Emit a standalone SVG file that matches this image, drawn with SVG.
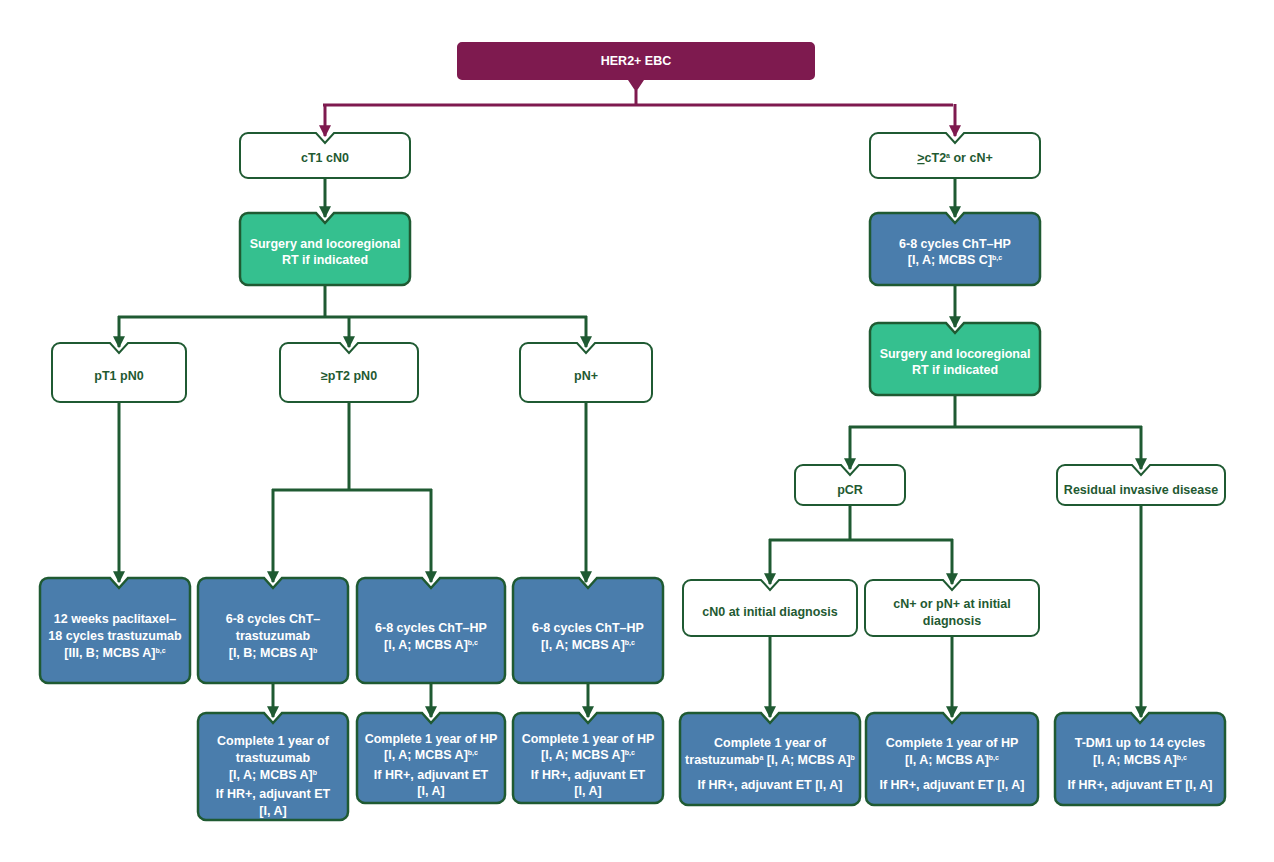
<svg xmlns="http://www.w3.org/2000/svg" width="1274" height="862" viewBox="0 0 1274 862">
<defs>
<marker id="ag" viewBox="0 0 10 10" refX="9" refY="5" markerWidth="4" markerHeight="4" orient="auto" markerUnits="strokeWidth"><path d="M0,0 L10,5 L0,10 Z" fill="#1f5a32"/></marker>
<marker id="ap" viewBox="0 0 10 10" refX="9" refY="5" markerWidth="4" markerHeight="4" orient="auto" markerUnits="strokeWidth"><path d="M0,0 L10,5 L0,10 Z" fill="#7e1a4f"/></marker>
</defs>
<style>
text{font-family:"Liberation Sans",Arial,sans-serif;font-weight:bold;font-size:12.5px;text-anchor:middle}
.w path{fill:#fff;stroke:#1f5a32;stroke-width:2}
.w text{fill:#1f5a32}
.b path{fill:#4a7dac;stroke:#1f5a32;stroke-width:2.5}
.b text{fill:#fff}
.g path{fill:#35c08f;stroke:#1f5a32;stroke-width:2.5}
.g text{fill:#fff}
.c{fill:none;stroke:#1f5a32;stroke-width:3}
.cp{fill:none;stroke:#7e1a4f;stroke-width:3}
.s{font-size:7px}
</style>
<rect width="1274" height="862" fill="#fff"/>
<g id="connectors">
<path class="cp" d="M636,90 V105"/>
<path class="cp" d="M323,105 H953"/>
<path class="cp" d="M325,104 V136" marker-end="url(#ap)"/>
<path class="cp" d="M955,104 V136" marker-end="url(#ap)"/>
<path class="c" d="M325,178 V217" marker-end="url(#ag)"/>
<path class="c" d="M325,285 V317 M118,317 H587"/>
<path class="c" d="M119,316 V347" marker-end="url(#ag)"/>
<path class="c" d="M349,316 V347" marker-end="url(#ag)"/>
<path class="c" d="M586,316 V347" marker-end="url(#ag)"/>
<path class="c" d="M119,402 V582" marker-end="url(#ag)"/>
<path class="c" d="M349,402 V490 M272,490 H432"/>
<path class="c" d="M273,489 V582" marker-end="url(#ag)"/>
<path class="c" d="M431,489 V582" marker-end="url(#ag)"/>
<path class="c" d="M586,402 V582" marker-end="url(#ag)"/>
<path class="c" d="M273,683 V717" marker-end="url(#ag)"/>
<path class="c" d="M431,683 V717" marker-end="url(#ag)"/>
<path class="c" d="M588,683 V717" marker-end="url(#ag)"/>
<path class="c" d="M955,178 V217" marker-end="url(#ag)"/>
<path class="c" d="M955,285 V327" marker-end="url(#ag)"/>
<path class="c" d="M955,395 V427 M849,427 H1142"/>
<path class="c" d="M850,426 V469" marker-end="url(#ag)"/>
<path class="c" d="M1141,426 V469" marker-end="url(#ag)"/>
<path class="c" d="M850,505 V540 M769,540 H953"/>
<path class="c" d="M770,539 V584" marker-end="url(#ag)"/>
<path class="c" d="M952,539 V584" marker-end="url(#ag)"/>
<path class="c" d="M770,636 V717" marker-end="url(#ag)"/>
<path class="c" d="M952,636 V717" marker-end="url(#ag)"/>
<path class="c" d="M1141,505 V717" marker-end="url(#ag)"/>
</g>
<g id="her2">
<path d="M462,42 H810 A5,5 0 0 1 815,47 V75 A5,5 0 0 1 810,80 H644 L636,92 L628,80 H462 A5,5 0 0 1 457,75 V47 A5,5 0 0 1 462,42 Z" fill="#7e1a4f"/>
<text x="636" y="65" fill="#fff">HER2+ EBC</text>
</g>
<g id="ct1" class="w"><path d="M248,133 H316 L325,143 L334,133 H402 A8,8 0 0 1 410,141 V170 A8,8 0 0 1 402,178 H248 A8,8 0 0 1 240,170 V141 A8,8 0 0 1 248,133 Z"/><text x="325" y="162">cT1 cN0</text></g>
<g id="ct2" class="w"><path d="M878,133 H946 L955,143 L964,133 H1032 A8,8 0 0 1 1040,141 V170 A8,8 0 0 1 1032,178 H878 A8,8 0 0 1 870,170 V141 A8,8 0 0 1 878,133 Z"/><text x="955" y="162"><tspan text-decoration="underline">&gt;</tspan>cT2<tspan class="s" dy="-4">a</tspan><tspan dy="4"> or cN+</tspan></text></g>
<g id="surgL" class="g"><path d="M248,213 H316 L325,223 L334,213 H402 A8,8 0 0 1 410,221 V277 A8,8 0 0 1 402,285 H248 A8,8 0 0 1 240,277 V221 A8,8 0 0 1 248,213 Z"/><text x="325" y="248">Surgery and locoregional</text><text x="325" y="264">RT if indicated</text></g>
<g id="chtR" class="b"><path d="M878,213 H946 L955,223 L964,213 H1032 A8,8 0 0 1 1040,221 V277 A8,8 0 0 1 1032,285 H878 A8,8 0 0 1 870,277 V221 A8,8 0 0 1 878,213 Z"/><text x="955" y="248">6-8 cycles ChT–HP</text><text x="955" y="264">[I, A; MCBS C]<tspan class="s" dy="-4">b,c</tspan></text></g>
<g id="surgR" class="g"><path d="M878,323 H946 L955,333 L964,323 H1032 A8,8 0 0 1 1040,331 V387 A8,8 0 0 1 1032,395 H878 A8,8 0 0 1 870,387 V331 A8,8 0 0 1 878,323 Z"/><text x="955" y="358">Surgery and locoregional</text><text x="955" y="374">RT if indicated</text></g>
<g id="pt1" class="w"><path d="M60,343 H110 L119,353 L128,343 H178 A8,8 0 0 1 186,351 V394 A8,8 0 0 1 178,402 H60 A8,8 0 0 1 52,394 V351 A8,8 0 0 1 60,343 Z"/><text x="119" y="380">pT1 pN0</text></g>
<g id="pt2" class="w"><path d="M288,343 H340 L349,353 L358,343 H410 A8,8 0 0 1 418,351 V394 A8,8 0 0 1 410,402 H288 A8,8 0 0 1 280,394 V351 A8,8 0 0 1 288,343 Z"/><text x="349" y="380">≥pT2 pN0</text></g>
<g id="pnp" class="w"><path d="M528,343 H577 L586,353 L595,343 H644 A8,8 0 0 1 652,351 V394 A8,8 0 0 1 644,402 H528 A8,8 0 0 1 520,394 V351 A8,8 0 0 1 528,343 Z"/><text x="586" y="380">pN+</text></g>
<g id="pcr" class="w"><path d="M803,465 H841 L850,475 L859,465 H897 A8,8 0 0 1 905,473 V497 A8,8 0 0 1 897,505 H803 A8,8 0 0 1 795,497 V473 A8,8 0 0 1 803,465 Z"/><text x="850" y="494">pCR</text></g>
<g id="resid" class="w"><path d="M1065,465 H1132 L1141,475 L1150,465 H1217 A8,8 0 0 1 1225,473 V497 A8,8 0 0 1 1217,505 H1065 A8,8 0 0 1 1057,497 V473 A8,8 0 0 1 1065,465 Z"/><text x="1141" y="494">Residual invasive disease</text></g>
<g id="b1" class="b"><path d="M48,578 H110 L119,588 L128,578 H182 A8,8 0 0 1 190,586 V675 A8,8 0 0 1 182,683 H48 A8,8 0 0 1 40,675 V586 A8,8 0 0 1 48,578 Z"/><text x="115" y="623">12 weeks paclitaxel–</text><text x="115" y="640">18 cycles trastuzumab</text><text x="115" y="657">[III, B; MCBS A]<tspan class="s" dy="-4">b,c</tspan></text></g>
<g id="b2" class="b"><path d="M206,578 H264 L273,588 L282,578 H340 A8,8 0 0 1 348,586 V675 A8,8 0 0 1 340,683 H206 A8,8 0 0 1 198,675 V586 A8,8 0 0 1 206,578 Z"/><text x="273" y="623">6-8 cycles ChT–</text><text x="273" y="640">trastuzumab</text><text x="273" y="657">[I, B; MCBS A]<tspan class="s" dy="-4">b</tspan></text></g>
<g id="b3" class="b"><path d="M365,578 H422 L431,588 L440,578 H497 A8,8 0 0 1 505,586 V675 A8,8 0 0 1 497,683 H365 A8,8 0 0 1 357,675 V586 A8,8 0 0 1 365,578 Z"/><text x="431" y="632">6-8 cycles ChT–HP</text><text x="431" y="649">[I, A; MCBS A]<tspan class="s" dy="-4">b,c</tspan></text></g>
<g id="b4" class="b"><path d="M521,578 H579 L588,588 L597,578 H655 A8,8 0 0 1 663,586 V675 A8,8 0 0 1 655,683 H521 A8,8 0 0 1 513,675 V586 A8,8 0 0 1 521,578 Z"/><text x="588" y="632">6-8 cycles ChT–HP</text><text x="588" y="649">[I, A; MCBS A]<tspan class="s" dy="-4">b,c</tspan></text></g>
<g id="b2b" class="b"><path d="M206,713 H264 L273,723 L282,713 H340 A8,8 0 0 1 348,721 V812 A8,8 0 0 1 340,820 H206 A8,8 0 0 1 198,812 V721 A8,8 0 0 1 206,713 Z"/><text x="273" y="745">Complete 1 year of</text><text x="273" y="762">trastuzumab</text><text x="273" y="779">[I, A; MCBS A]<tspan class="s" dy="-4">b</tspan></text><text x="273" y="798">If HR+, adjuvant ET</text><text x="273" y="815">[I, A]</text></g>
<g id="b3b" class="b"><path d="M365,713 H422 L431,723 L440,713 H497 A8,8 0 0 1 505,721 V795 A8,8 0 0 1 497,803 H365 A8,8 0 0 1 357,795 V721 A8,8 0 0 1 365,713 Z"/><text x="431" y="743">Complete 1 year of HP</text><text x="431" y="759">[I, A; MCBS A]<tspan class="s" dy="-4">b,c</tspan></text><text x="431" y="779">If HR+, adjuvant ET</text><text x="431" y="795">[I, A]</text></g>
<g id="b4b" class="b"><path d="M521,713 H579 L588,723 L597,713 H655 A8,8 0 0 1 663,721 V795 A8,8 0 0 1 655,803 H521 A8,8 0 0 1 513,795 V721 A8,8 0 0 1 521,713 Z"/><text x="588" y="743">Complete 1 year of HP</text><text x="588" y="759">[I, A; MCBS A]<tspan class="s" dy="-4">b,c</tspan></text><text x="588" y="779">If HR+, adjuvant ET</text><text x="588" y="795">[I, A]</text></g>
<g id="cn0" class="w"><path d="M691,580 H761 L770,590 L779,580 H849 A8,8 0 0 1 857,588 V628 A8,8 0 0 1 849,636 H691 A8,8 0 0 1 683,628 V588 A8,8 0 0 1 691,580 Z"/><text x="770" y="616">cN0 at initial diagnosis</text></g>
<g id="cnp" class="w"><path d="M873,580 H943 L952,590 L961,580 H1031 A8,8 0 0 1 1039,588 V628 A8,8 0 0 1 1031,636 H873 A8,8 0 0 1 865,628 V588 A8,8 0 0 1 873,580 Z"/><text x="952" y="608">cN+ or pN+ at initial</text><text x="952" y="625">diagnosis</text></g>
<g id="r1" class="b"><path d="M688,713 H761 L770,723 L779,713 H852 A8,8 0 0 1 860,721 V797 A8,8 0 0 1 852,805 H688 A8,8 0 0 1 680,797 V721 A8,8 0 0 1 688,713 Z"/><text x="770" y="747">Complete 1 year of</text><text x="770" y="764">trastuzumab<tspan class="s" dy="-4">a</tspan><tspan dy="4"> [I, A; MCBS A]</tspan><tspan class="s" dy="-4">b</tspan></text><text x="770" y="789">If HR+, adjuvant ET [I, A]</text></g>
<g id="r2" class="b"><path d="M874,713 H943 L952,723 L961,713 H1030 A8,8 0 0 1 1038,721 V797 A8,8 0 0 1 1030,805 H874 A8,8 0 0 1 866,797 V721 A8,8 0 0 1 874,713 Z"/><text x="952" y="747">Complete 1 year of HP</text><text x="952" y="764">[I, A; MCBS A]<tspan class="s" dy="-4">b,c</tspan></text><text x="952" y="789">If HR+, adjuvant ET [I, A]</text></g>
<g id="r3" class="b"><path d="M1063,713 H1131 L1140,723 L1149,713 H1217 A8,8 0 0 1 1225,721 V797 A8,8 0 0 1 1217,805 H1063 A8,8 0 0 1 1055,797 V721 A8,8 0 0 1 1063,713 Z"/><text x="1140" y="747">T-DM1 up to 14 cycles</text><text x="1140" y="764">[I, A; MCBS A]<tspan class="s" dy="-4">b,c</tspan></text><text x="1140" y="789">If HR+, adjuvant ET [I, A]</text></g>
</svg>
